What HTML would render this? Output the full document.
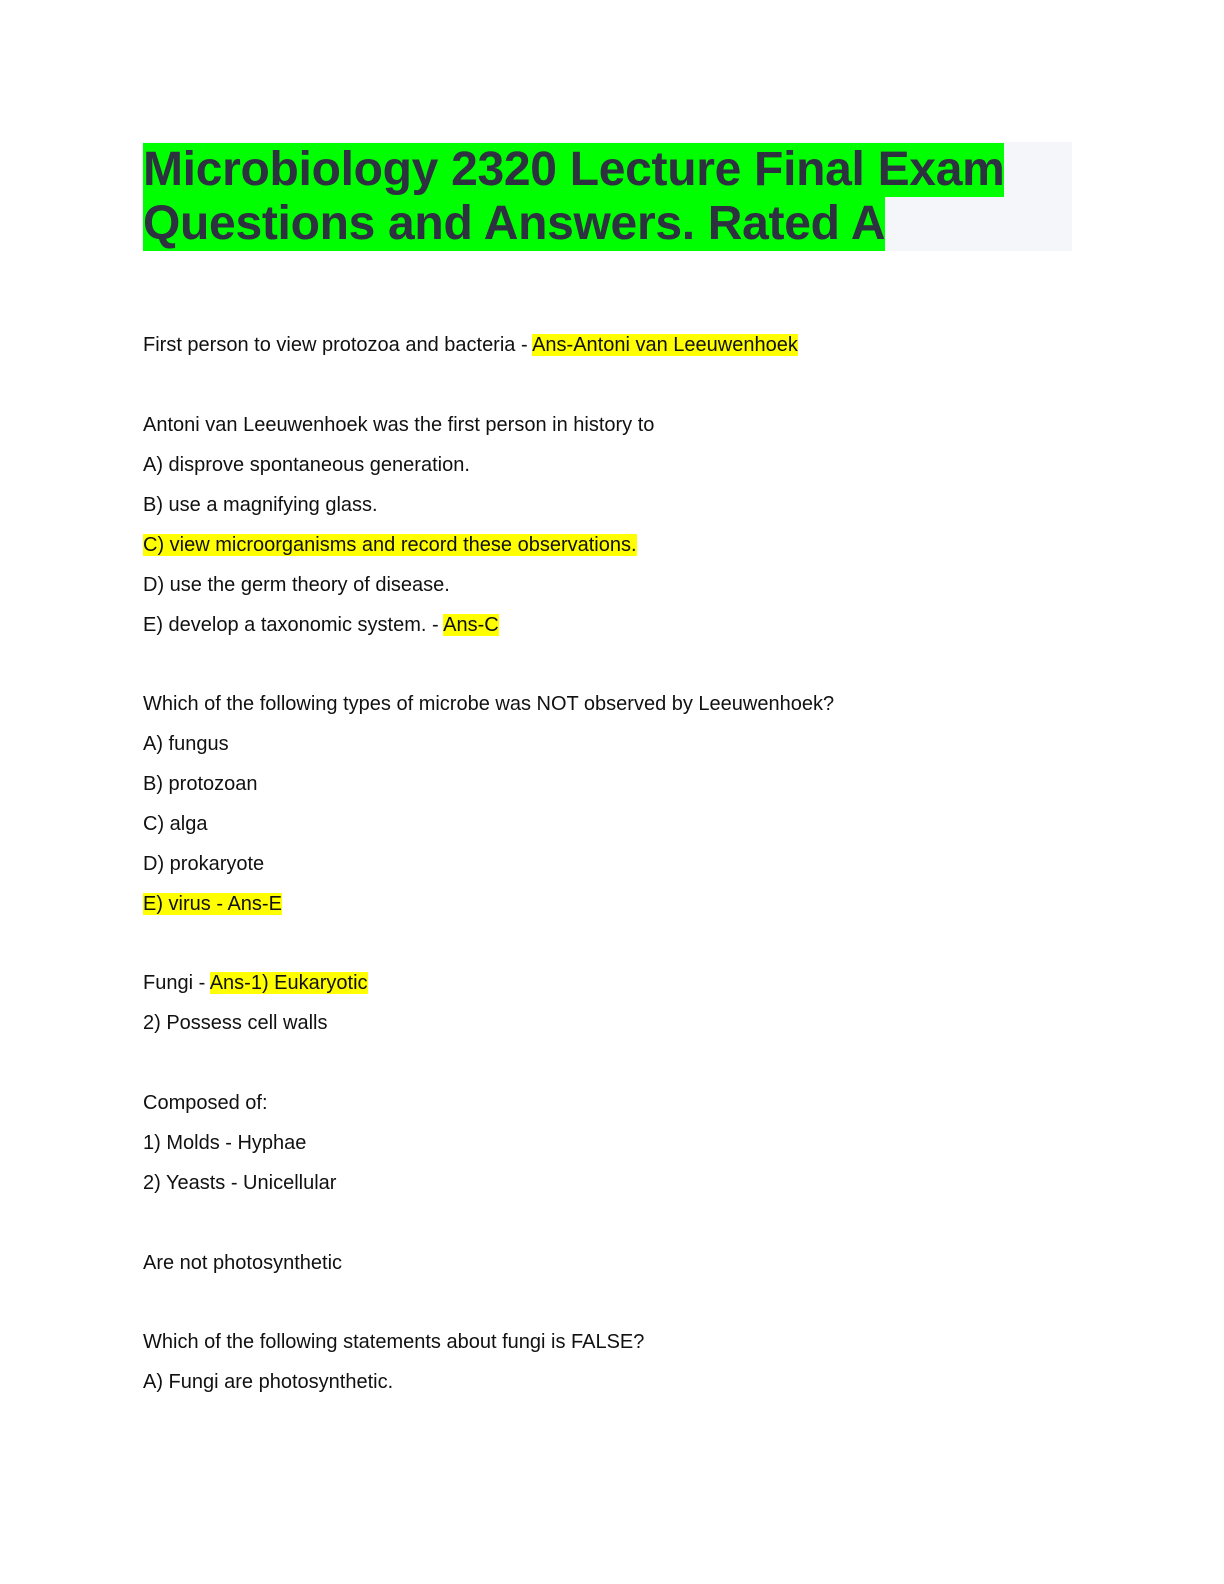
<!DOCTYPE html>
<html><head><meta charset="utf-8"><style>
body{margin:0;width:1224px;height:1584px;background:#fff;position:relative;font-family:"Liberation Sans",sans-serif}
.panel{position:absolute;left:142px;top:142px;width:930px;height:109px;background:#f5f6fa}
.t{position:absolute;left:143px;font-weight:bold;font-size:48px;color:#2e3140;background:#00ff00;line-height:54px;height:54px;white-space:nowrap;letter-spacing:-0.3px}
.l{position:absolute;left:143px;font-size:20px;color:#111;white-space:nowrap;line-height:24px}
.h{background:#ffff00}
</style></head><body>
<div class="panel"></div>
<div class="t" style="top:143px">Microbiology 2320 Lecture Final Exam</div>
<div class="t" style="top:197px">Questions and Answers. Rated A</div>
<div class="l" style="top:333px">First person to view protozoa and bacteria - <span class="h">Ans-Antoni van Leeuwenhoek</span></div>
<div class="l" style="top:413px">Antoni van Leeuwenhoek was the first person in history to</div>
<div class="l" style="top:453px">A) disprove spontaneous generation.</div>
<div class="l" style="top:493px">B) use a magnifying glass.</div>
<div class="l" style="top:533px"><span class="h">C) view microorganisms and record these observations.</span></div>
<div class="l" style="top:573px">D) use the germ theory of disease.</div>
<div class="l" style="top:613px">E) develop a taxonomic system. - <span class="h">Ans-C</span></div>
<div class="l" style="top:692px">Which of the following types of microbe was NOT observed by Leeuwenhoek?</div>
<div class="l" style="top:732px">A) fungus</div>
<div class="l" style="top:772px">B) protozoan</div>
<div class="l" style="top:812px">C) alga</div>
<div class="l" style="top:852px">D) prokaryote</div>
<div class="l" style="top:892px"><span class="h">E) virus - Ans-E</span></div>
<div class="l" style="top:971px">Fungi - <span class="h">Ans-1) Eukaryotic</span></div>
<div class="l" style="top:1011px">2) Possess cell walls</div>
<div class="l" style="top:1091px">Composed of:</div>
<div class="l" style="top:1131px">1) Molds - Hyphae</div>
<div class="l" style="top:1171px">2) Yeasts - Unicellular</div>
<div class="l" style="top:1251px">Are not photosynthetic</div>
<div class="l" style="top:1330px">Which of the following statements about fungi is FALSE?</div>
<div class="l" style="top:1370px">A) Fungi are photosynthetic.</div>
</body></html>
